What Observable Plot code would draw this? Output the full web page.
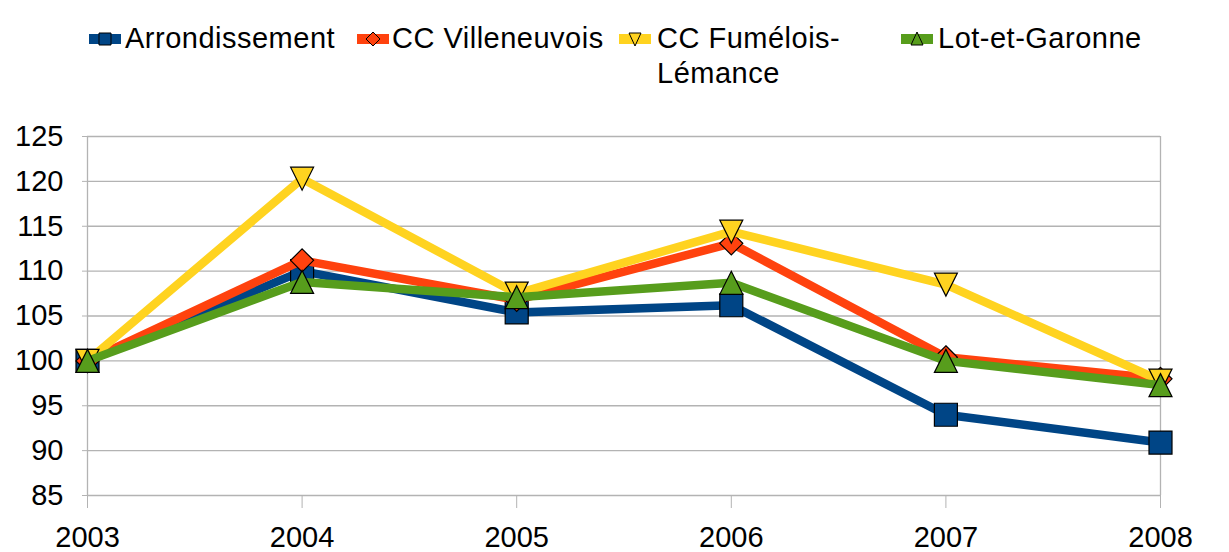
<!DOCTYPE html>
<html><head><meta charset="utf-8">
<script src="https://cdn.jsdelivr.net/npm/d3@7"></script>
<script src="https://cdn.jsdelivr.net/npm/@observablehq/plot@0.6"></script>
<style>
body{margin:0;background:#fff;font-family:"Liberation Sans",Arial,sans-serif;}
#wrap{position:relative;width:1229px;height:552px;}
#legend{position:relative;width:1229px;height:100px;font-size:29px;color:#000;}
.item{position:absolute;white-space:nowrap;line-height:35px;letter-spacing:0.5px;}
#legend svg{position:absolute;}
</style></head>
<body><div id="wrap"><div id="legend"></div><div id="chart"></div></div>
<script>
const years = [2003, 2004, 2005, 2006, 2007, 2008];
const arrondissement = [100, 110.0, 105.4, 106.2, 94.0, 90.9];
const villeneuvois = [100, 111.2, 106.8, 113.1, 100.4, 98.0];
const fumelois = [100, 120.3, 107.5, 114.4, 108.5, 97.8];
const lotGaronne = [100, 108.8, 107.1, 108.7, 100.0, 97.3];
const seriesNames = ["Arrondissement", "CC Villeneuvois", "CC Fumélois-Lémance", "Lot-et-Garonne"];
const yTicks = [85, 90, 95, 100, 105, 110, 115, 120, 125];

const colors = ["#004586", "#ff420e", "#ffd320", "#579d1c"];
const R = s => Math.sqrt(s / Math.PI);
const symSquare = {draw(c, s){const r=R(s); c.moveTo(-r,-r); c.lineTo(r,-r); c.lineTo(r,r); c.lineTo(-r,r); c.closePath();}};
const symDiamond = {draw(c, s){const r=R(s); c.moveTo(0,-r); c.lineTo(r,0); c.lineTo(0,r); c.lineTo(-r,0); c.closePath();}};
const symDown = {draw(c, s){const r=R(s); c.moveTo(-r,-r); c.lineTo(r,-r); c.lineTo(0,r); c.closePath();}};
const symUp = {draw(c, s){const r=R(s); c.moveTo(0,-r); c.lineTo(r,r); c.lineTo(-r,r); c.closePath();}};
const symbols = [symSquare, symDiamond, symDown, symUp];
const values = [arrondissement, villeneuvois, fumelois, lotGaronne];

const marks = [
  Plot.ruleY(yTicks, {stroke: "#b3b3b3", strokeWidth: 1.3}),
  Plot.ruleX([2003, 2008], {y1: 85, y2: 125, stroke: "#b3b3b3", strokeWidth: 1.3}),
  Plot.axisY({ticks: yTicks, tickSize: 5, tickPadding: 19, stroke: "#b3b3b3", tickFormat: d => String(d), label: null}),
  Plot.axisX({ticks: years, tickSize: 13, tickPadding: 18, stroke: "#b3b3b3", tickFormat: d => String(d), label: null})
];
values.forEach((vals, k) => {
  const data = years.map((y, i) => ({year: y, value: vals[i]}));
  marks.push(Plot.line(data, {x: "year", y: "value", stroke: colors[k], strokeWidth: 8.5, strokeLinejoin: "round"}));
  marks.push(Plot.dot(data, {x: "year", y: "value", symbol: symbols[k], r: 11.5, fill: colors[k], stroke: "#000", strokeWidth: 1.2}));
});

const chart = Plot.plot({
  width: 1229, height: 452,
  marginLeft: 87, marginRight: 69, marginTop: 36, marginBottom: 57,
  x: {domain: [2003, 2008]},
  y: {domain: [85, 125]},
  style: {fontSize: "29px", fontFamily: "'Liberation Sans', Arial, sans-serif", color: "#000", background: "#fff", overflow: "visible"},
  marks
});
document.getElementById("chart").appendChild(chart);

// legend
const legend = document.getElementById("legend");
const legendPos = [{sx: 89, tx: 125}, {sx: 357, tx: 392}, {sx: 619, tx: 657}, {sx: 901, tx: 938}];
const legendText = ["Arrondissement", "CC Villeneuvois", "CC Fumélois-<br>Lémance", "Lot-et-Garonne"];
const shapes = [
  'M-6,-6L6,-6L6,6L-6,6Z', 'M0,-7L7,0L0,7L-7,0Z', 'M-6,-6L6,-6L0,7Z', 'M0,-7L6,6L-6,6Z'
];
legendPos.forEach((p, k) => {
  const sv = `<svg width="34" height="20" style="left:${p.sx}px;top:29px" viewBox="0 0 34 20">
    <rect x="0" y="5" width="32" height="10" fill="${colors[k]}"/>
    <path d="${shapes[k]}" transform="translate(16,10)" fill="${colors[k]}" stroke="#000" stroke-width="1"/></svg>`;
  legend.insertAdjacentHTML("beforeend", sv);
  const div = document.createElement("div");
  div.className = "item";
  div.style.left = p.tx + "px";
  div.style.top = "21px";
  div.innerHTML = legendText[k];
  legend.appendChild(div);
});
</script></body></html>
